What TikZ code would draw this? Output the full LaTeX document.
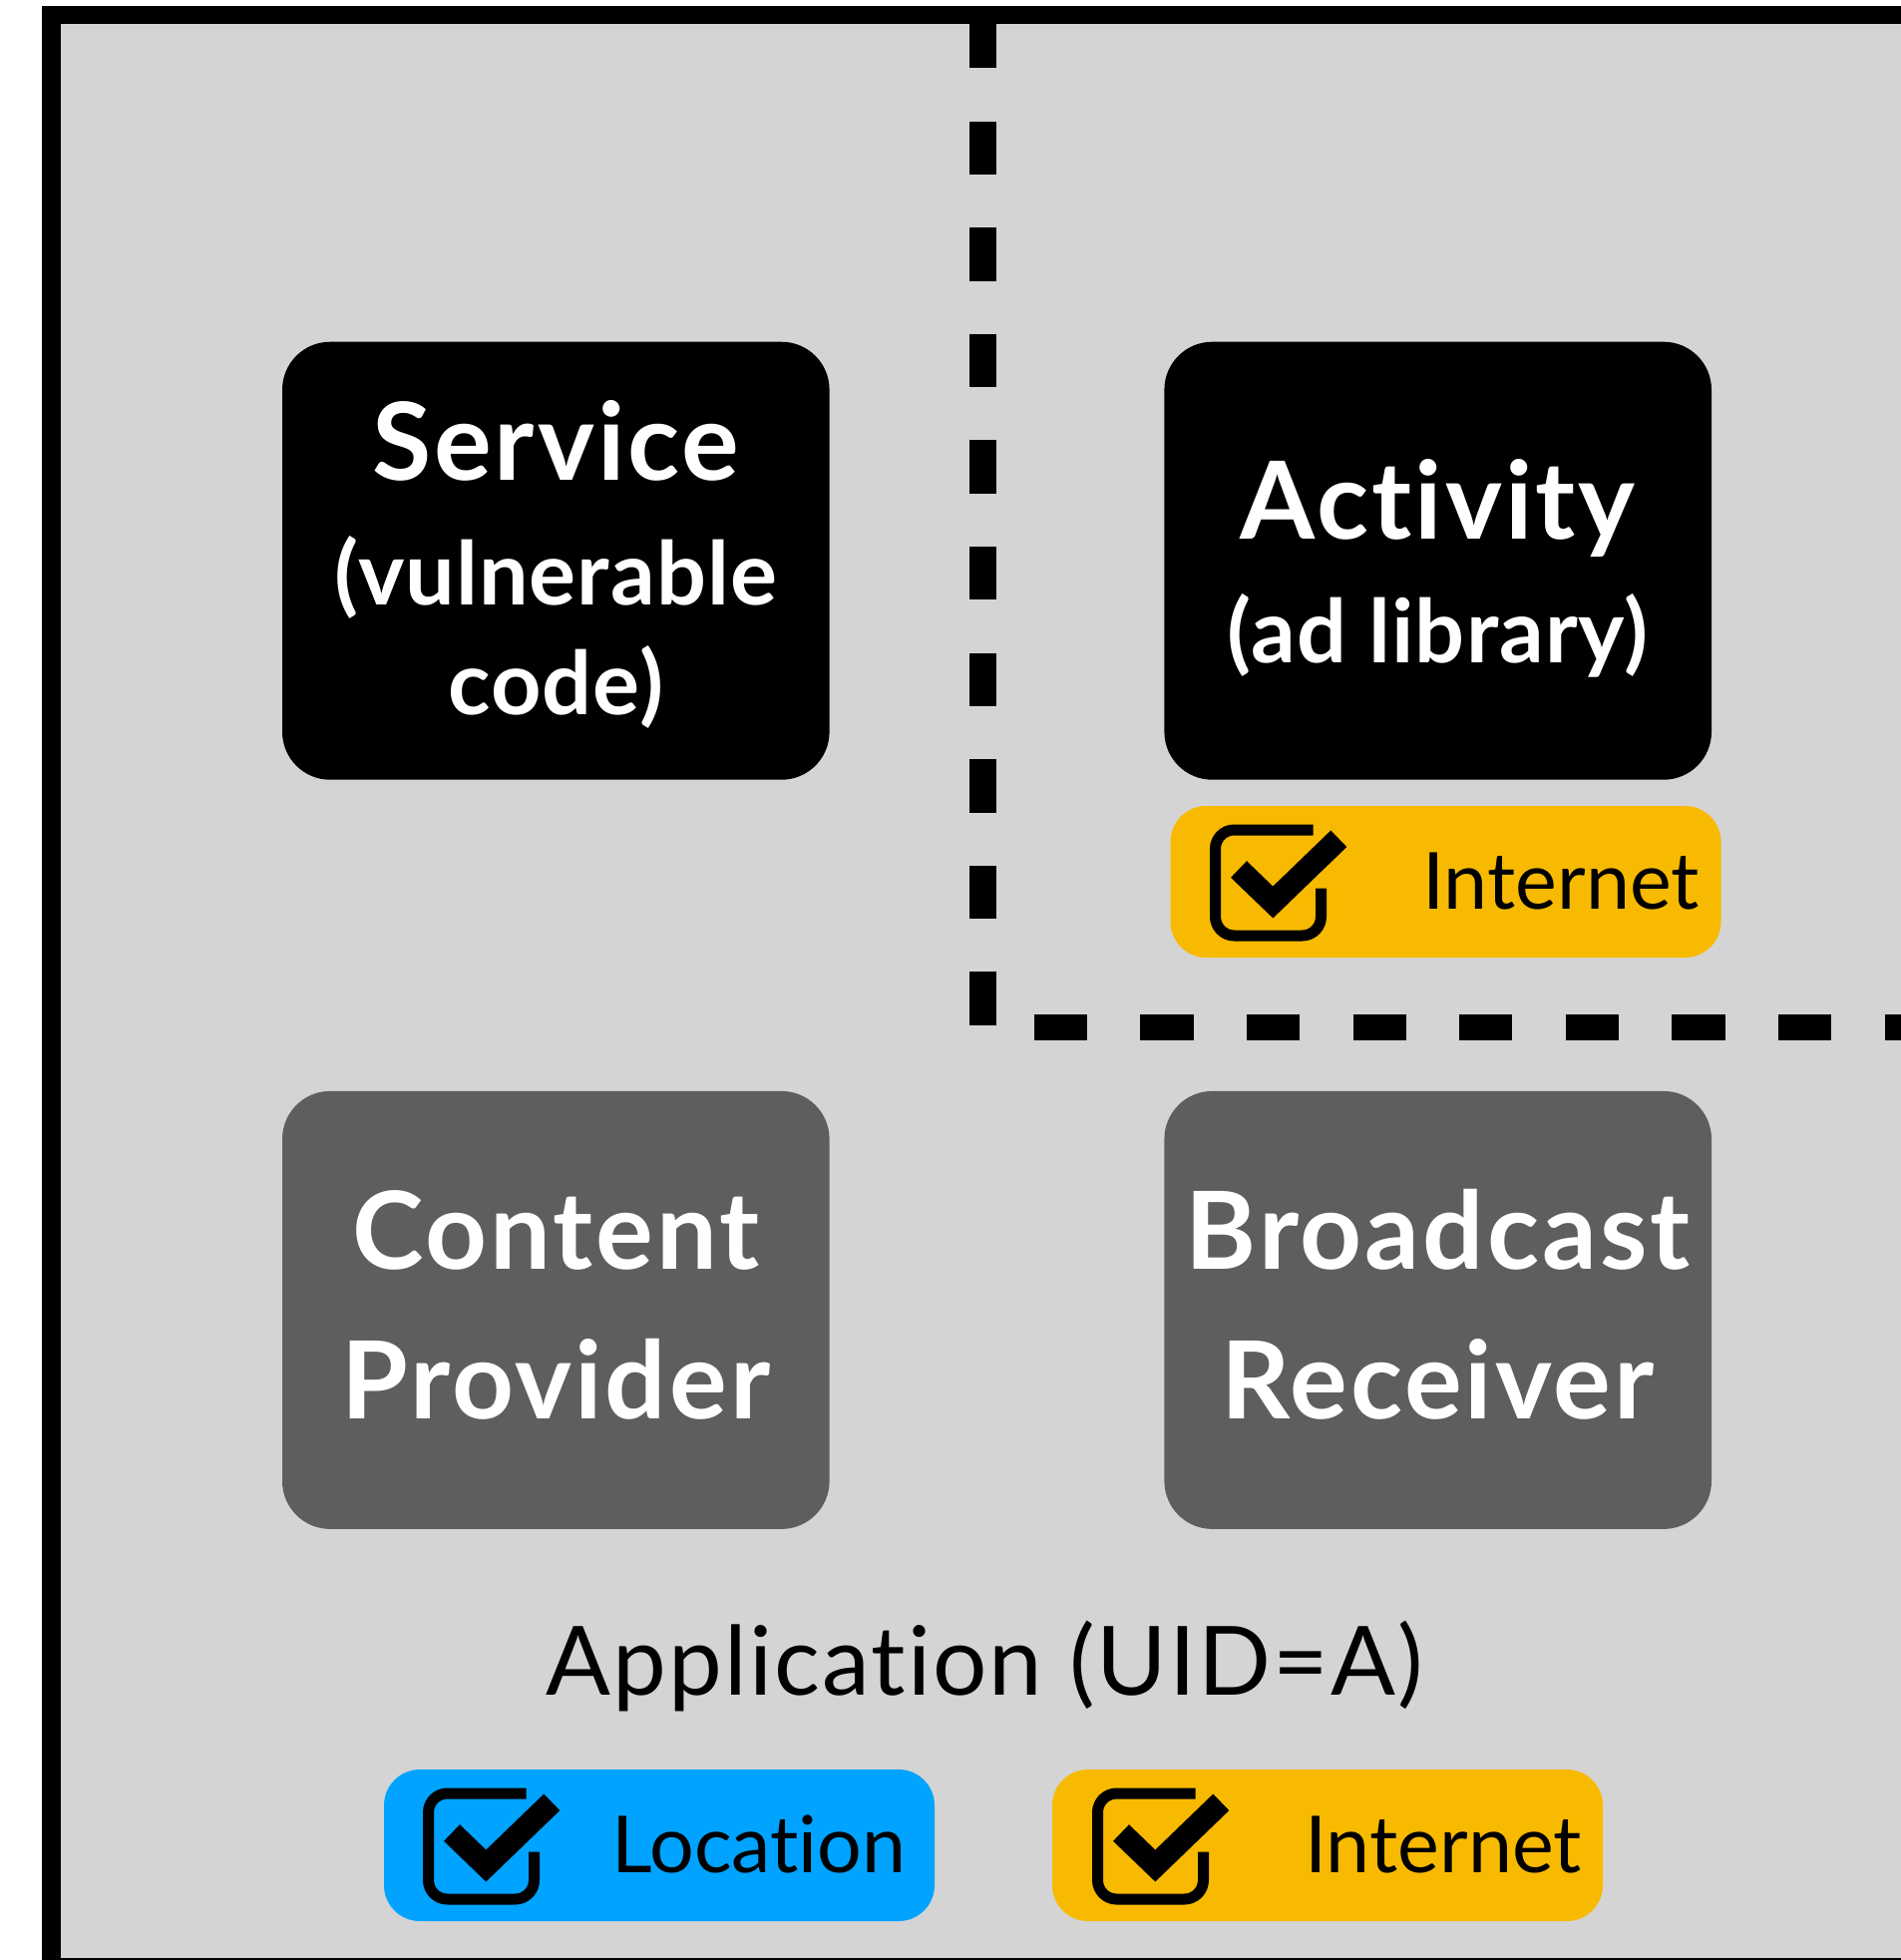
\documentclass[tikz,border=0pt]{standalone}
\usepackage{fontspec}
\setmainfont{Lato}[Ligatures=NoCommon]
\newfontfamily\ttlfont{Lato}[Ligatures=NoCommon, LetterSpace=2.8]
\newfontfamily\subfont{Lato}[Ligatures=NoCommon, LetterSpace=1.2]
\newfontfamily\lblfont{Lato}[Ligatures=NoCommon, LetterSpace=2.2]
\definecolor{panel}{HTML}{D4D4D4}
\definecolor{darkbox}{HTML}{5E5E5E}
\definecolor{amber}{HTML}{F8BA00}
\definecolor{skyblue}{HTML}{00A3FF}
\newcommand\chkicon[2]{%
  \begin{scope}[shift={(#1)}]
    \draw[line width=11, rounded corners=19] (103.5,5.5) -- (5.5,5.5) -- (5.5,111.5) -- (111.5,111.5) -- (111.5,64);
    \draw[line width=23, line join=miter] (29,45) -- (63.3,78) -- (129.3,14.3);
  \end{scope}}
\begin{document}
\begin{tikzpicture}[x=1pt,y=-1pt,
  comp/.style={rounded corners=48, inner sep=0, minimum width=548.6, minimum height=439, draw=none},
  badge/.style={rounded corners=36, inner sep=0, minimum width=552, minimum height=152, draw=none},
  ttl/.style={anchor=base, inner sep=0, text=white, font=\ttlfont\fontsize{108}{120}\selectfont\bfseries},
  sub/.style={anchor=base, inner sep=0, text=white, font=\subfont\fontsize{88}{100}\selectfont\bfseries},
  lbl/.style={anchor=base, inner sep=0, font=\lblfont\fontsize{96}{110}\selectfont},
  perm/.style={anchor=base, inner sep=0, font=\fontsize{79}{95}\selectfont},
  sep/.style={line width=26.7, dash pattern=on 53.3 off 53.3}]
\useasboundingbox (0,0) rectangle (1906,1965);
\clip (0,0) rectangle (1906,1965);
\fill[white] (0,0) rectangle (1906,1965);
\draw[line width=18.5, fill=panel] (51.5,15) rectangle (1960,1972);

\coordinate (sepTop) at (985.7,15);
\coordinate (sepCorner) at (985.7,1030);
\coordinate (sepEnd) at (1960,1030);
\draw[sep] (sepTop) -- (sepCorner) -- (sepEnd);

\node[comp, fill=black] (service) at (557.3,562.2) {};
\node[comp, fill=black] (activity) at (1441.7,562.2) {};
\node[comp, fill=darkbox] (content) at (557.3,1313.4) {};
\node[comp, fill=darkbox] (broadcast) at (1441.7,1313.4) {};

\node[ttl] (serviceT) at (557.3,481.7) {Service};
\node[sub] (serviceS1) at (557.3,606.7) {(vulnerable};
\node[sub] (serviceS2) at (557.3,716.7) {code)};
\node[ttl] (activityT) at (1441.7,540) {Activity};
\node[sub] (activityS) at (1441.7,664) {(ad library)};
\node[ttl] (contentT1) at (557.3,1272.7) {Content};
\node[ttl] (contentT2) at (557.3,1422.3) {Provider};
\node[ttl] (broadcastT1) at (1441.7,1272.7) {Broadcast};
\node[ttl] (broadcastT2) at (1441.7,1422.3) {Receiver};

\node[badge, fill=amber] (actNet) at (1449.5,884) {};
\chkicon{1213,826.5}{}
\node[perm] (actNetT) at (1565,911) {Internet};

\node[lbl] (app) at (987.5,1699.5) {Application (UID=A)};

\node[badge, fill=skyblue] (appLoc) at (661,1850) {};
\chkicon{424,1792.5}{}
\node[perm] (appLocT) at (761,1877) {Location};

\node[badge, fill=amber] (appNet) at (1331,1850) {};
\chkicon{1095,1792.5}{}
\node[perm] (appNetT) at (1447,1877) {Internet};
\end{tikzpicture}
\end{document}
